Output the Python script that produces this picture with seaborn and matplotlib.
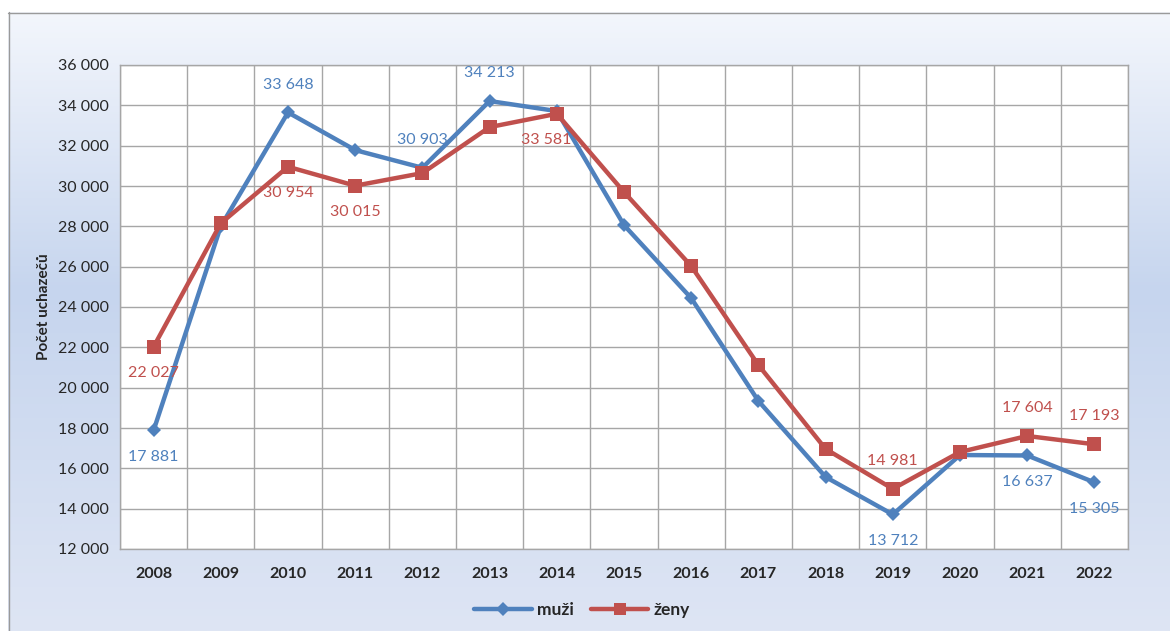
import numpy as np
import pandas as pd
import matplotlib
matplotlib.use("Agg")
import matplotlib.pyplot as plt
import matplotlib.ticker as mticker
from matplotlib.colors import LinearSegmentedColormap
from matplotlib.lines import Line2D
import seaborn as sns

roky = [2008, 2009, 2010, 2011, 2012, 2013, 2014, 2015, 2016, 2017, 2018, 2019, 2020, 2021, 2022]
muzi = [17881, 28000, 33648, 31780, 30903, 34213, 33715, 28060, 24440, 19340, 15570, 13712, 16660, 16637, 15305]
zeny = [22027, 28150, 30954, 30015, 30640, 32920, 33581, 29700, 26030, 21120, 16960, 14981, 16810, 17604, 17193]

# which points get a value label, and on which side
popisky_muzi = {2008: "below", 2010: "above", 2012: "above", 2013: "above",
                2019: "below", 2021: "below", 2022: "below"}
popisky_zeny = {2008: "below", 2010: "below", 2011: "below", 2014: "below",
                2019: "above", 2021: "above", 2022: "above"}

modra = "#4F81BD"
cervena = "#C0504D"

sns.set_style("white")
plt.rcParams["font.family"] = ["Lato", "DejaVu Sans"]

df = pd.DataFrame({
    "x": list(range(len(roky))) * 2,
    "rok": roky * 2,
    "pocet": muzi + zeny,
    "pohlavi": ["muži"] * len(roky) + ["ženy"] * len(roky),
})

W, H = 1170, 631
fig = plt.figure(figsize=(W / 100, H / 100), dpi=100)
fig.patch.set_facecolor("white")

# background gradient
bg = fig.add_axes([0, 0, 1, 1], zorder=-5)
bg.set_xlim(0, W)
bg.set_ylim(H, 0)
bg.axis("off")
cmap = LinearSegmentedColormap.from_list("bg", [(0.0, "#F3F6FC"), (0.45, "#C6D5EE"), (1.0, "#DEE5F4")])
grad = np.linspace(0, 1, 256).reshape(-1, 1)
bg.imshow(grad, cmap=cmap, aspect="auto", extent=[8, W, H, 12], zorder=0)
bg.add_line(Line2D([8.5, 8.5], [12, H], color="#9A9A9A", lw=1))
bg.add_line(Line2D([8, W], [12.5, 12.5], color="#9A9A9A", lw=1))

ax = fig.add_axes([120 / W, (H - 549) / H, 1008 / W, 484 / H])
ax.set_facecolor("white")

sns.lineplot(data=df, x="x", y="pocet", hue="pohlavi", style="pohlavi",
             palette={"muži": modra, "ženy": cervena},
             markers={"muži": "D", "ženy": "s"}, dashes=False,
             linewidth=3.2, markersize=9, markeredgewidth=0, ax=ax, legend=False, zorder=3)
# make the diamond a bit slimmer, the square a bit bigger
ax.lines[0].set_markersize(7.5)
ax.lines[1].set_markersize(10)

ax.set_xlim(-0.5, len(roky) - 0.5)
ax.set_ylim(12000, 36000)
ax.yaxis.set_major_locator(mticker.MultipleLocator(2000))
ax.yaxis.set_major_formatter(mticker.FuncFormatter(lambda v, p: f"{v:,.0f}".replace(",", " ")))
ax.set_xticks(range(len(roky)))
ax.set_xticklabels([str(r) for r in roky], fontweight="bold", fontsize=11.5)
ax.set_xticks(np.arange(-0.5, len(roky), 1), minor=True)
ax.tick_params(axis="x", which="major", length=0, pad=13)
ax.tick_params(axis="x", which="minor", length=7, width=1, color="#A0A0A0", direction="out")
ax.tick_params(axis="y", which="major", length=5, width=1, color="#A0A0A0", labelsize=11.5, pad=3)
ax.grid(True, axis="y", which="major", color="#A6A6A6", lw=1)
ax.grid(True, axis="x", which="minor", color="#A6A6A6", lw=1)
for s in ax.spines.values():
    s.set_color("#A6A6A6")
    s.set_linewidth(1)
ax.set_xlabel("")
ax.set_ylabel("Počet uchazečů", fontweight="bold", fontsize=11, labelpad=5)

def popisky(hodnoty, mista, barva):
    for i, r in enumerate(roky):
        if r in mista:
            dy = 20 if mista[r] == "above" else -19
            # nudge labels sitting on a falling line slightly to the left
            dx = -8 if 0 < i < len(roky) - 1 and hodnoty[i + 1] < hodnoty[i] - 2000 else 0
            ax.annotate(f"{hodnoty[i]:,}".replace(",", " "), (i, hodnoty[i]),
                        xytext=(dx, dy), textcoords="offset points",
                        ha="center", va="center", color=barva, fontsize=11.5, zorder=4)

popisky(muzi, popisky_muzi, modra)
popisky(zeny, popisky_zeny, cervena)

handles = [Line2D([], [], color=modra, lw=3.2, marker="D", markersize=7, markeredgewidth=0),
           Line2D([], [], color=cervena, lw=3.2, marker="s", markersize=9, markeredgewidth=0)]
leg = fig.legend(handles, ["muži", "ženy"], loc="center", bbox_to_anchor=(582 / W, 1 - 610 / H),
                 ncol=2, frameon=False, handlelength=3.3, columnspacing=1.0, handletextpad=0.3,
                 prop={"weight": "bold", "size": 12.5})

fig.savefig("out.png", dpi=100)
